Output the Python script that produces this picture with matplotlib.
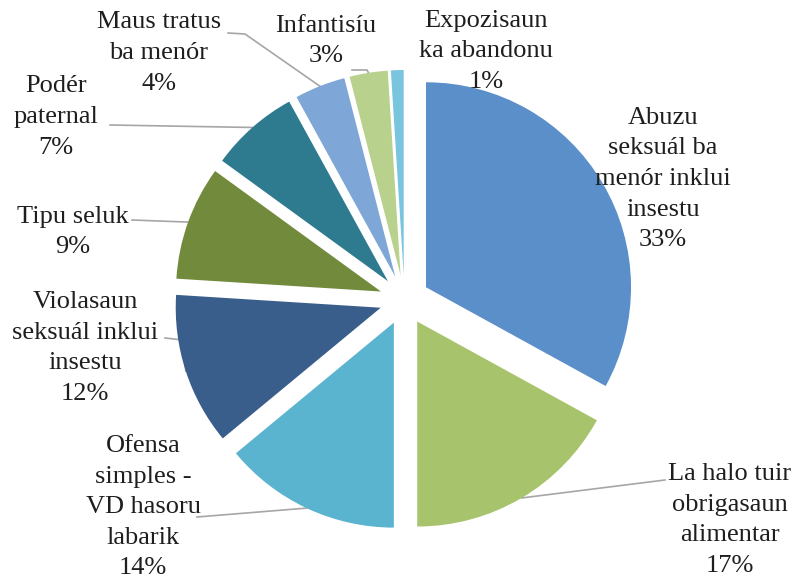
import numpy as np
import matplotlib
matplotlib.use("Agg")
import matplotlib.pyplot as plt

# data
categories = ["Abuzu\nseksuál ba\nmenór inklui\ninsestu",
              "La halo tuir\nobrigasaun\nalimentar",
              "Ofensa\nsimples -\nVD hasoru\nlabarik",
              "Violasaun\nseksuál inklui\ninsestu",
              "Tipu seluk",
              "Podér\npaternal",
              "Maus tratus\nba menór",
              "Infantisíu",
              "Expozisaun\nka abandonu"]
values = [33, 17, 14, 12, 9, 7, 4, 3, 1]
colors = ["#5B8FC9", "#A7C36B", "#5BB4CF", "#3A5E8B", "#728A3B",
          "#2E7B8F", "#7EA6D6", "#B8D18C", "#79C5DE"]

# layout in image pixels
W, H = 798, 583
CX, CY, R = 404.5, 300, 205
EXPL = 25

# label centres (px) and leader start points (px, None = no leader)
label_pos = [(663, 179), (730, 520), (143, 507), (85, 348), (73, 232),
             (56, 117), (159, 53), (326, 41), (486, 51)]
leaders = [None,
           [(665, 480)],
           [(197, 517)],
           [(165, 338), (183, 340)],
           [(132, 220)],
           [(110, 125)],
           [(228, 33), (245, 34)],
           [(352, 70), (367, 70)],
           None]


def px(x, y):
    return (x - CX) / R, (CY - y) / R


plt.rcParams['font.family'] = ['Liberation Serif', 'DejaVu Serif']

fig = plt.figure(figsize=(W / 100, H / 100), dpi=100)
ax = fig.add_axes([0, 0, 1, 1])
wedges, _ = ax.pie(values, colors=colors, startangle=90, counterclock=False,
                   radius=1, center=(0, 0), explode=[EXPL / R] * len(values),
                   wedgeprops=dict(linewidth=0))
ax.set_xlim(-CX / R, (W - CX) / R)
ax.set_ylim(-(H - CY) / R, CY / R)
ax.axis('off')

for w, lab, v, pos, ld in zip(wedges, categories, values, label_pos, leaders):
    tx, ty = px(*pos)
    ax.text(tx, ty, f"{lab}\n{v}%", ha='center', va='center',
            multialignment='center', fontsize=19, color='#1e1e1e',
            linespacing=1.5)
    if ld is None:
        continue
    th = np.deg2rad((w.theta1 + w.theta2) / 2)
    ex = w.center[0] + w.r * np.cos(th)
    ey = w.center[1] + w.r * np.sin(th)
    xs = [px(*p)[0] for p in ld] + [ex]
    ys = [px(*p)[1] for p in ld] + [ey]
    ax.plot(xs, ys, color='#A6A6A6', lw=1.2, zorder=0)

fig.savefig("out.png", dpi=100)
